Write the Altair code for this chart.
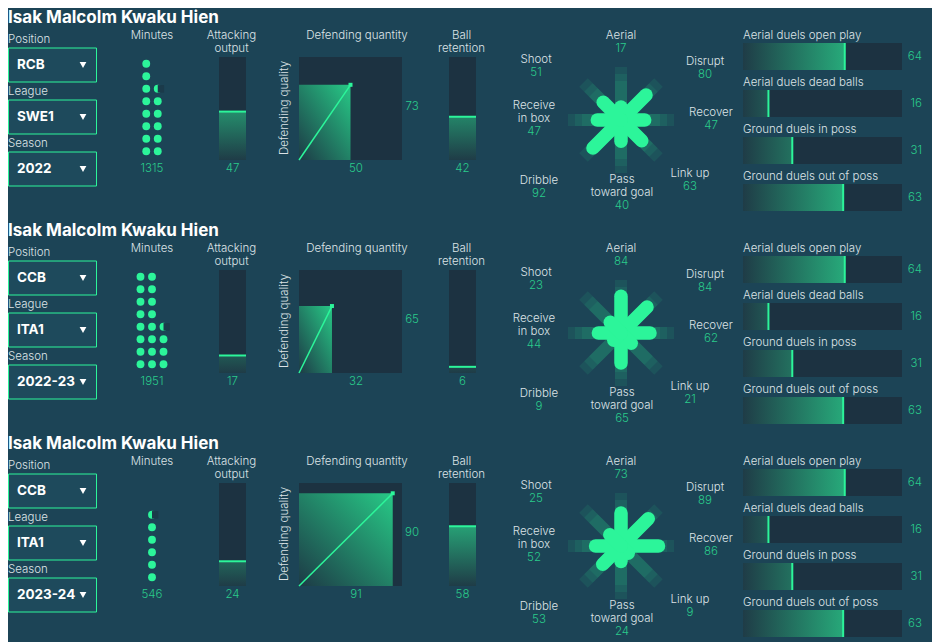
import math
import altair as alt
import pandas as pd

# ---------------- data ----------------
PLAYER = "Isak Malcolm Kwaku Hien"
FILTER_LABELS = ["Position", "League", "Season"]
POSITIONS = ["RCB", "CCB", "CCB"]
LEAGUES = ["SWE1", "ITA1", "ITA1"]
SEASONS = ["2022", "2022-23", "2023-24"]
MINUTES = [1315, 1951, 546]
ATTACKING_OUTPUT = [47, 17, 24]
DEF_QUANTITY = [50, 32, 91]
DEF_QUALITY = [73, 65, 90]
BALL_RETENTION = [42, 6, 58]
STAR_LABELS = ["Aerial", "Disrupt", "Recover", "Link up", "Pass toward goal",
               "Dribble", "Receive in box", "Shoot"]
STAR_ANGLES = [90, 45, 0, -45, -90, -135, 180, 135]
STAR_VALUES = [
    [17, 80, 47, 63, 40, 92, 47, 51],
    [84, 84, 62, 21, 65, 9, 44, 23],
    [73, 89, 86, 9, 24, 53, 52, 25],
]
DUEL_LABELS = ["Aerial duels open play", "Aerial duels dead balls",
               "Ground duels in poss", "Ground duels out of poss"]
DUEL_VALUES = [
    [64, 16, 31, 63],
    [64, 16, 31, 63],
    [64, 16, 31, 63],
]

# ---------------- style / layout ----------------
BG = "#1c4456"
PANEL = "#1c3241"
GREEN = "#2cf59a"
VALUE = "#2acb8b"
TEXT = "#dce3e6"
WHITE = "#ffffff"
BOXFILL = "#1e4a5c"
COVER = "#1b3a4a"
FONT = "Inter"
FS = 11.5
LW = 300
ROW_H = 213
DY = -2
G_DARK = (31, 60, 71)
G_FULL = (44, 232, 150)

# star label layout: dx, name line offsets, value offset (px from centre, down positive)
STAR_LAYOUT = {
    "Aerial": (0, [-84], -71),
    "Disrupt": (84, [-58], -45),
    "Recover": (90, [-7], 6),
    "Link up": (69, [54], 67),
    "Pass toward goal": (1, [60, 73], 86),
    "Dribble": (-82, [61], 74),
    "Receive in box": (-87, [-14, -1], 12),
    "Shoot": (-85, [-60], -47),
}
STAR_LINES = {"Pass toward goal": ["Pass", "toward goal"],
              "Receive in box": ["Receive", "in box"]}


def mix(t):
    c = [round(a + (b - a) * t) for a, b in zip(G_DARK, G_FULL)]
    return "#%02x%02x%02x" % tuple(c)


def grad(c0, c1, x1, y1, x2, y2):
    return {"gradient": "linear", "x1": x1, "y1": y1, "x2": x2, "y2": y2,
            "stops": [{"offset": 0, "color": c0}, {"offset": 1, "color": c1}]}


def lin_scale(v0, p0, v1, p1, size):
    k = (p1 - p0) / (v1 - v0)
    lo = v0 - p0 / k
    hi = v0 + (size - p0) / k
    if lo > hi:
        return alt.Scale(domain=[hi, lo], nice=False, zero=False, reverse=True)
    return alt.Scale(domain=[lo, hi], nice=False, zero=False)


def xs(v0, p0, v1, p1, W):
    return lin_scale(v0, p0, v1, p1, W)


def ys(v0, p0, v1, p1, H=ROW_H):
    # p measured from the top of the panel
    return lin_scale(v0, H - (p0 + DY), v1, H - (p1 + DY), H)


def txt(text, x, y, size=FS, color=TEXT, align="center", weight=LW, angle=0):
    kw = dict(font=FONT, fontSize=size, color=color, align=align,
              baseline="middle", fontWeight=weight)
    if angle:
        kw["angle"] = angle
    return alt.Chart(pd.DataFrame({"t": [text]})).mark_text(**kw).encode(
        x=alt.value(x), y=alt.value(y + DY), text="t:N")


# ---------------- panels ----------------
def dropdown_panel(r):
    W = 105
    df = pd.DataFrame({"i": [0, 1, 2], "label": FILTER_LABELS,
                       "value": [POSITIONS[r], LEAGUES[r], SEASONS[r]]})
    sy = ys(0, 42, 1, 94)
    base = alt.Chart(df).transform_calculate(
        top="datum.i", bottom="datum.i + 34/52",
        mid="datum.i + 17/52", lab="datum.i - 8/52")
    box = base.mark_rect(fill=BOXFILL, stroke=GREEN, strokeWidth=1).encode(
        x=alt.value(0.5), x2=alt.value(88.5),
        y=alt.Y("top:Q", scale=sy, axis=None), y2="bottom:Q")
    lab = base.mark_text(font=FONT, fontSize=FS, color=TEXT, align="left",
                         baseline="middle", fontWeight=LW).encode(
        x=alt.value(0), y=alt.Y("lab:Q", scale=sy, axis=None), text="label:N")
    val = base.mark_text(font=FONT, fontSize=13.5, color=WHITE, align="left",
                         baseline="middle", fontWeight="bold").encode(
        x=alt.value(9), y=alt.Y("mid:Q", scale=sy, axis=None), text="value:N")
    caret = base.mark_point(shape="triangle-down", filled=True, size=45,
                            color=WHITE, opacity=1).encode(
        x=alt.value(75), y=alt.Y("mid:Q", scale=sy, axis=None))
    title = txt(PLAYER, 0, 12, size=17, color=WHITE, align="left", weight="bold")
    return alt.layer(box, lab, val, caret, title).properties(width=W, height=ROW_H)


def minutes_panel(r):
    W = 78
    m = MINUTES[r]
    full = m // 100
    frac = (m % 100) / 100
    n = full + (1 if frac > 0 else 0)
    ncols = math.ceil(n / 8)
    rows = []
    for k in range(n):
        col, row = k // 8, k % 8
        rows.append({"x": col - (ncols - 1) / 2, "row": row,
                     "partial": bool(k == full and frac > 0)})
    df = pd.DataFrame(rows)
    sx = xs(0, 39, 1, 50.5, W)
    sy = ys(0, 145.3, 1, 132.8)
    dots = alt.Chart(df).mark_circle(size=62, color=GREEN, opacity=1).encode(
        x=alt.X("x:Q", scale=sx, axis=None), y=alt.Y("row:Q", scale=sy, axis=None))
    cover = alt.Chart(df).transform_filter("datum.partial").transform_calculate(
        xa="datum.x", xb="datum.x + 0.55", ya="datum.row - 0.3", yb="datum.row + 0.3"
    ).mark_rect(color=COVER).encode(
        x=alt.X("xa:Q", scale=sx, axis=None), x2="xb:Q",
        y=alt.Y("ya:Q", scale=sy, axis=None), y2="yb:Q")
    return alt.layer(
        dots, cover,
        txt("Minutes", 39, 30),
        txt(str(m), 39, 163, color=VALUE),
    ).properties(width=W, height=ROW_H)


def vbar_panel(v, W, p0, p1, title_lines):
    df = pd.DataFrame({"x0": [0], "x1": [1], "y0": [0], "y100": [100], "v": [v]})
    sx = xs(0, p0, 1, p1, W)
    sy = ys(0, 154, 100, 51)
    cx = (p0 + p1) / 2
    base = alt.Chart(df)
    bg = base.mark_rect(color=PANEL).encode(
        x=alt.X("x0:Q", scale=sx, axis=None), x2="x1:Q",
        y=alt.Y("y0:Q", scale=sy, axis=None), y2="y100:Q")
    fill = base.mark_rect(fill=grad(mix(0), mix(v / 100), 0, 1, 0, 0)).encode(
        x=alt.X("x0:Q", scale=sx, axis=None), x2="x1:Q",
        y=alt.Y("y0:Q", scale=sy, axis=None), y2="v:Q")
    top = base.mark_rule(color=GREEN, strokeWidth=2).encode(
        x=alt.X("x0:Q", scale=sx, axis=None), x2="x1:Q",
        y=alt.Y("v:Q", scale=sy, axis=None))
    layers = [bg, fill, top]
    for j, line in enumerate(title_lines):
        layers.append(txt(line, cx - 1, 30 + 13 * j))
    layers.append(txt(str(v), cx, 163, color=VALUE))
    return alt.layer(*layers).properties(width=W, height=ROW_H)


def defending_panel(r):
    W = 159
    q, ql = DEF_QUANTITY[r], DEF_QUALITY[r]
    df = pd.DataFrame({"z": [0], "full": [100], "q": [q], "ql": [ql]})
    sx = xs(0, 28, 100, 131, W)
    sy = ys(0, 154, 100, 51)
    base = alt.Chart(df)
    bg = base.mark_rect(color=PANEL).encode(
        x=alt.X("z:Q", scale=sx, axis=None), x2="full:Q",
        y=alt.Y("z:Q", scale=sy, axis=None), y2="full:Q")
    fill = base.mark_rect(fill=grad("#1d3a46", "#27c986", 0, 1, 1, 0)).encode(
        x=alt.X("z:Q", scale=sx, axis=None), x2="q:Q",
        y=alt.Y("z:Q", scale=sy, axis=None), y2="ql:Q")
    diag = base.mark_rule(color=GREEN, strokeWidth=1.5).encode(
        x=alt.X("z:Q", scale=sx, axis=None), x2="q:Q",
        y=alt.Y("z:Q", scale=sy, axis=None), y2="ql:Q")
    pt = base.mark_point(shape="square", filled=True, size=16, color=GREEN,
                         opacity=1).encode(
        x=alt.X("q:Q", scale=sx, axis=None), y=alt.Y("ql:Q", scale=sy, axis=None))
    return alt.layer(
        bg, fill, diag, pt,
        txt("Defending quantity", 86, 30),
        txt("Defending quality", 14, 102, angle=270),
        txt(str(q), 85, 163, color=VALUE),
        txt(str(ql), 141, 101, color=VALUE),
    ).properties(width=W, height=ROW_H)


def star_panel(r):
    W = 246
    cy = 114 + DY
    df = pd.DataFrame({"label": STAR_LABELS, "angle": STAR_ANGLES,
                       "value": STAR_VALUES[r]})
    sx = alt.Scale(domain=[-127, 119], nice=False, zero=False)
    sy = alt.Scale(domain=[-(ROW_H - cy), cy], nice=False, zero=False)
    base = alt.Chart(df).transform_calculate(
        rad="datum.angle * PI / 180", z="0",
        r="7 + 0.355 * datum.value")
    layers = []
    for R in (53, 46, 39):
        layers.append(base.transform_calculate(
            bx=f"{R} * cos(datum.rad)", by=f"{R} * sin(datum.rad)"
        ).mark_rule(color=GREEN, strokeWidth=12, opacity=0.085).encode(
            x=alt.X("z:Q", scale=sx, axis=None), x2="bx:Q",
            y=alt.Y("z:Q", scale=sy, axis=None), y2="by:Q"))
    layers.append(base.transform_calculate(
        ex="datum.r * cos(datum.rad)", ey="datum.r * sin(datum.rad)"
    ).mark_rule(color=GREEN, strokeWidth=13.5, strokeCap="round").encode(
        x=alt.X("z:Q", scale=sx, axis=None), x2="ex:Q",
        y=alt.Y("z:Q", scale=sy, axis=None), y2="ey:Q"))
    lines = []
    for lab, v in zip(STAR_LABELS, STAR_VALUES[r]):
        dx, name_dys, vdy = STAR_LAYOUT[lab]
        for t, dy in zip(STAR_LINES.get(lab, [lab]), name_dys):
            lines.append({"x": dx, "y": -dy, "t": t, "kind": "name"})
        lines.append({"x": dx, "y": -vdy, "t": str(v), "kind": "value"})
    ldf = pd.DataFrame(lines)
    for kind, col in (("name", TEXT), ("value", VALUE)):
        layers.append(alt.Chart(ldf).transform_filter(f"datum.kind == '{kind}'")
                      .mark_text(font=FONT, fontSize=FS, color=col, baseline="middle",
                                 fontWeight=LW)
                      .encode(x=alt.X("x:Q", scale=sx, axis=None),
                              y=alt.Y("y:Q", scale=sy, axis=None), text="t:N"))
    return alt.layer(*layers).properties(width=W, height=ROW_H)


def duels_panel(r):
    W = 192
    vals = DUEL_VALUES[r]
    df = pd.DataFrame({"i": list(range(4)), "label": DUEL_LABELS, "value": vals})
    sx = xs(0, 3, 100, 162, W)
    sy = ys(0, 37, 1, 84)
    base = alt.Chart(df).transform_calculate(
        top="datum.i", bot="datum.i + 27/47", lab="datum.i - 7/47",
        mid="datum.i + 13.5/47", z="0", full="100")
    X = lambda f: alt.X(f, scale=sx, axis=None)
    Y = lambda f: alt.Y(f, scale=sy, axis=None)
    layers = [base.mark_rect(color=PANEL).encode(
        x=X("z:Q"), x2="full:Q", y=Y("top:Q"), y2="bot:Q")]
    for k, v in enumerate(vals):
        layers.append(base.transform_filter(f"datum.i == {k}").mark_rect(
            fill=grad(mix(0), mix(v / 100), 0, 0, 1, 0)).encode(
            x=X("z:Q"), x2="value:Q", y=Y("top:Q"), y2="bot:Q"))
    layers.append(base.mark_rule(color=GREEN, strokeWidth=2).encode(
        x=X("value:Q"), y=Y("top:Q"), y2="bot:Q"))
    layers.append(base.mark_text(font=FONT, fontSize=FS, color=TEXT, align="left",
                                 baseline="middle", fontWeight=LW).encode(
        x=X("z:Q"), y=Y("lab:Q"), text="label:N"))
    layers.append(base.mark_text(font=FONT, fontSize=FS, color=VALUE, align="right",
                                 baseline="middle", fontWeight=LW).encode(
        x=alt.value(182), y=Y("mid:Q"), text="value:Q"))
    return alt.layer(*layers).properties(width=W, height=ROW_H)


def row_panels(r):
    return [
        dropdown_panel(r),
        minutes_panel(r),
        vbar_panel(ATTACKING_OUTPUT[r], 80, 28, 55, ["Attacking", "output"]),
        defending_panel(r),
        vbar_panel(BALL_RETENTION[r], 64, 19, 46, ["Ball", "retention"]),
        star_panel(r),
        duels_panel(r),
    ]


panels = [p for r in range(3) for p in row_panels(r)]
chart = alt.concat(*panels, columns=7, spacing=0, bounds="flush") \
    .properties(padding={"left": 0, "top": 0, "right": 0, "bottom": 0}) \
    .configure(background=BG) \
    .configure_view(strokeWidth=0)

chart.save("out.html", embed_options={"renderer": "svg", "actions": False})
